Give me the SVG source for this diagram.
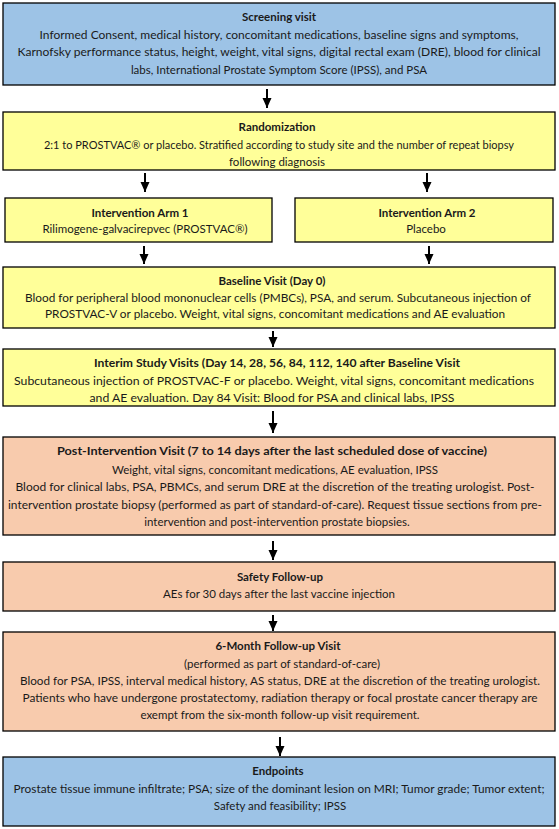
<svg xmlns="http://www.w3.org/2000/svg" width="559" height="829" viewBox="0 0 559 829">
<style>
.box{stroke:#000;stroke-width:1.3}
.blue{fill:#9DC3E6}
.yel{fill:#FFFF99}
.pch{fill:#F8CBAD}
text{font-family:Lato,"Liberation Sans",sans-serif;font-size:11.5px;fill:#1a1a1a;text-anchor:middle}
.t{font-weight:bold}
.c{stroke:#000;stroke-width:2;fill:none}
</style>
<defs>
<marker id="ah" markerUnits="userSpaceOnUse" markerWidth="10" markerHeight="10" viewBox="0 0 10 10" refX="10" refY="5" orient="auto">
<path d="M0,0.5 L10,5 L0,9.5 Z" fill="#000"/>
</marker>
</defs>
<rect width="559" height="829" fill="#fff"/>
<g id="connectors">
<path class="c" d="M267 89 V108" marker-end="url(#ah)"/>
<path class="c" d="M145 173 V192" marker-end="url(#ah)"/>
<path class="c" d="M427 173 V192" marker-end="url(#ah)"/>
<path class="c" d="M144 246 V264" marker-end="url(#ah)"/>
<path class="c" d="M429 246 V264" marker-end="url(#ah)"/>
<path class="c" d="M273 331 V347" marker-end="url(#ah)"/>
<path class="c" d="M273 411 V433" marker-end="url(#ah)"/>
<path class="c" d="M273 541 V560" marker-end="url(#ah)"/>
<path class="c" d="M273 615 V631" marker-end="url(#ah)"/>
<path class="c" d="M280 737 V756" marker-end="url(#ah)"/>
</g>
<g id="screening">
<rect class="box blue" x="3" y="3" width="552" height="82"/>
<text class="t" x="279" y="21">Screening visit</text>
<text x="279" y="39" textLength="479" lengthAdjust="spacingAndGlyphs">Informed Consent, medical history, concomitant medications, baseline signs and symptoms,</text>
<text x="279" y="56" textLength="523" lengthAdjust="spacingAndGlyphs">Karnofsky performance status, height, weight, vital signs, digital rectal exam (DRE), blood for clinical</text>
<text x="279" y="74">labs, International Prostate Symptom Score (IPSS), and PSA</text>
</g>
<g id="randomization">
<rect class="box yel" x="3" y="112" width="552" height="58"/>
<text class="t" x="277" y="131">Randomization</text>
<text x="279" y="149" textLength="470" lengthAdjust="spacingAndGlyphs">2:1 to PROSTVAC® or placebo. Stratified according to study site and the number of repeat biopsy</text>
<text x="277" y="166">following diagnosis</text>
</g>
<g id="arm1">
<rect class="box yel" x="5" y="198" width="267" height="44"/>
<text class="t" x="140" y="217">Intervention Arm 1</text>
<text x="145" y="233">Rilimogene-galvacirepvec (PROSTVAC®)</text>
</g>
<g id="arm2">
<rect class="box yel" x="295" y="198" width="258" height="44"/>
<text class="t" x="427" y="217">Intervention Arm 2</text>
<text x="426" y="233">Placebo</text>
</g>
<g id="baseline">
<rect class="box yel" x="3" y="267" width="552" height="61"/>
<text class="t" x="272" y="285">Baseline Visit (Day 0)</text>
<text x="278" y="302" textLength="506" lengthAdjust="spacingAndGlyphs">Blood for peripheral blood mononuclear cells (PMBCs), PSA, and serum. Subcutaneous injection of</text>
<text x="275" y="318" textLength="460" lengthAdjust="spacingAndGlyphs">PROSTVAC-V or placebo. Weight, vital signs, concomitant medications and AE evaluation</text>
</g>
<g id="interim">
<rect class="box yel" x="3" y="349" width="552" height="57"/>
<text class="t" x="277" y="367" textLength="366" lengthAdjust="spacingAndGlyphs">Interim Study Visits (Day 14, 28, 56, 84, 112, 140 after Baseline Visit</text>
<text x="274" y="385" textLength="520" lengthAdjust="spacingAndGlyphs">Subcutaneous injection of PROSTVAC-F or placebo. Weight, vital signs, concomitant medications</text>
<text x="272" y="402" textLength="365" lengthAdjust="spacingAndGlyphs">and AE evaluation. Day 84 Visit: Blood for PSA and clinical labs, IPSS</text>
</g>
<g id="post">
<rect class="box pch" x="3" y="437" width="552" height="98"/>
<text class="t" x="272" y="455" textLength="430" lengthAdjust="spacingAndGlyphs">Post-Intervention Visit (7 to 14 days after the last scheduled dose of vaccine)</text>
<text x="275" y="474">Weight, vital signs, concomitant medications, AE evaluation, IPSS</text>
<text x="275" y="491" textLength="519" lengthAdjust="spacingAndGlyphs">Blood for clinical labs, PSA, PBMCs, and serum DRE at the discretion of the treating urologist. Post-</text>
<text x="275" y="509" textLength="534" lengthAdjust="spacingAndGlyphs">intervention prostate biopsy (performed as part of standard-of-care). Request tissue sections from pre-</text>
<text x="277" y="526">intervention and post-intervention prostate biopsies.</text>
</g>
<g id="safety">
<rect class="box pch" x="3" y="562" width="552" height="49"/>
<text class="t" x="280" y="581">Safety Follow-up</text>
<text x="279" y="598">AEs for 30 days after the last vaccine injection</text>
</g>
<g id="sixmonth">
<rect class="box pch" x="3" y="632" width="552" height="99"/>
<text class="t" x="278" y="650">6-Month Follow-up Visit</text>
<text x="282" y="668">(performed as part of standard-of-care)</text>
<text x="280" y="685" textLength="520" lengthAdjust="spacingAndGlyphs">Blood for PSA, IPSS, interval medical history, AS status, DRE at the discretion of the treating urologist.</text>
<text x="280" y="702" textLength="515" lengthAdjust="spacingAndGlyphs">Patients who have undergone prostatectomy, radiation therapy or focal prostate cancer therapy are</text>
<text x="280" y="719">exempt from the six-month follow-up visit requirement.</text>
</g>
<g id="endpoints">
<rect class="box blue" x="3" y="757" width="552" height="69"/>
<text class="t" x="278" y="775">Endpoints</text>
<text x="279" y="793" textLength="531" lengthAdjust="spacingAndGlyphs">Prostate tissue immune infiltrate; PSA; size of the dominant lesion on MRI; Tumor grade; Tumor extent;</text>
<text x="280" y="810">Safety and feasibility; IPSS</text>
</g>
</svg>
